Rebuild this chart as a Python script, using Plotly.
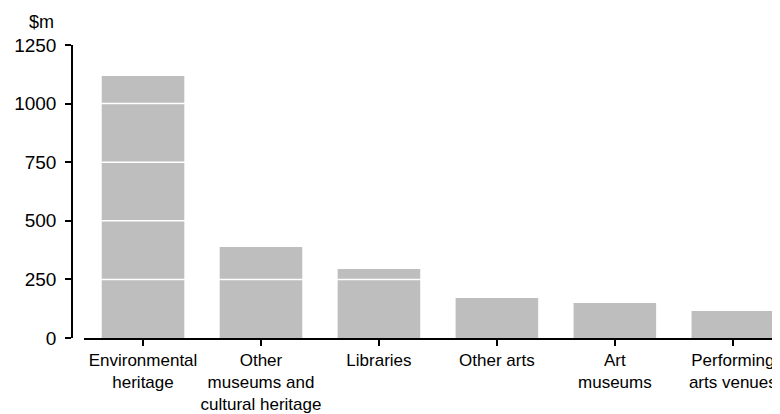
import plotly.graph_objects as go

categories = ["Environmental<br>heritage", "Other<br>museums and<br>cultural heritage", "Libraries",
              "Other arts", "Art<br>museums", "Performing<br>arts venues"]
values = [1118, 388, 294, 171, 149, 115]
y_ticks = [0, 250, 500, 750, 1000, 1250]
unit_label = "$m"

FONT = "Liberation Sans, Arial, sans-serif"

fig = go.Figure()
fig.add_trace(go.Bar(x=list(range(len(categories))), y=values,
                     marker=dict(color="#bebebe", line=dict(width=0)),
                     width=0.7, hoverinfo="skip"))

# white gridlines drawn over the bars
for t in y_ticks[1:-1]:
    fig.add_shape(type="line", xref="paper", yref="y", x0=0.017, x1=1, y0=t, y1=t,
                  line=dict(color="white", width=1.5), layer="above")

# page body has an 8px default margin, so the figure is sized to fit the 780x414 window
fig.update_layout(
    width=772, height=406,
    margin=dict(l=64, r=0, t=37, b=76, autoexpand=False),
    paper_bgcolor="white", plot_bgcolor="white",
    showlegend=False,
    font=dict(family=FONT, size=17, color="black"),
    xaxis=dict(domain=[0.017, 1], range=[-0.5, 5.4],
               tickmode="array", tickvals=list(range(len(categories))), ticktext=categories,
               tickangle=0, automargin=False,
               showline=True, linecolor="black", linewidth=1.5,
               ticks="outside", ticklen=6, tickwidth=1.5, tickcolor="black",
               showgrid=False, zeroline=False,
               tickfont=dict(size=17)),
    yaxis=dict(anchor="free", position=0, range=[0, 1250], automargin=False,
               tickmode="array", tickvals=y_ticks,
               showline=True, linecolor="black", linewidth=1.5,
               ticks="outside", ticklen=6, tickwidth=1.5, tickcolor="black",
               showgrid=False, zeroline=False,
               tickfont=dict(size=19), ticklabelstandoff=5),
    annotations=[dict(text=unit_label, xref="paper", yref="paper", x=0, y=1,
                      xanchor="center", yanchor="bottom", xshift=-31, yshift=11,
                      showarrow=False, font=dict(size=18))],
)

fig.write_html("out.html")
